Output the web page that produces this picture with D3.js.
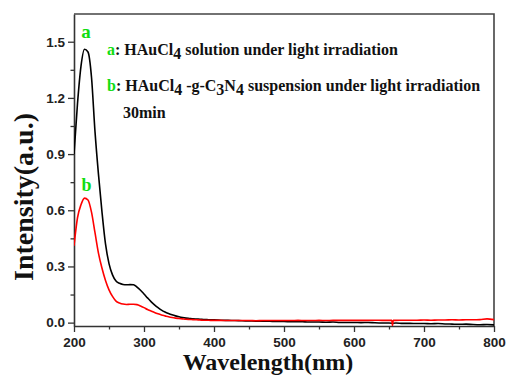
<!DOCTYPE html>
<html>
<head>
<meta charset="utf-8">
<script src="https://cdn.jsdelivr.net/npm/d3@7"></script>
<style>
  body { margin: 0; background: #fff; }
  .tick text { font-family: "Liberation Sans", Arial, sans-serif; font-weight: bold; font-size: 13.5px; fill: #222; }
  .serif { font-family: "Liberation Serif", "Times New Roman", serif; font-weight: bold; }
</style>
</head>
<body>
<div id="chart"></div>
<script>
// wavelength grid (nm)
const wavelength = [200,205,210,215,220,225,230,235,240,245,
  250,255,260,265,270,275,280,285,290,295,
  300,305,310,315,320,325,330,335,340,345,
  350,355,360,365,370,375,380,385,390,395,
  400,410,420,430,440,450,460,470,480,490,
  500,510,520,530,540,550,560,570,580,590,
  600,610,620,630,640,650,654,655,656,660,670,680,
  690,700,710,720,730,740,750,760,770,780,
  790,800];

// a: HAuCl4 solution
const seriesA = [0.90,1.17,1.37,1.46,1.445,1.31,1.02,0.79,0.59,0.42,
  0.315,0.255,0.222,0.21,0.204,0.202,0.203,0.202,0.19,0.173,
  0.153,0.132,0.112,0.095,0.080,0.067,0.057,0.049,0.042,0.036,
  0.031,0.027,0.024,0.022,0.020,0.019,0.018,0.017,0.016,0.015,
  0.015,0.013,0.012,0.011,0.010,0.009,0.008,0.008,0.007,0.006,
  0.006,0.005,0.005,0.004,0.003,0.003,0.002,0.003,0.001,0.001,
  0.001,0.000,0.001,-0.001,-0.002,-0.002,-0.003,-0.004,-0.003,-0.002,-0.004,-0.004,
  -0.005,-0.005,-0.006,-0.005,-0.007,-0.008,-0.009,-0.008,-0.010,-0.011,
  -0.010,-0.012];

// b: HAuCl4-g-C3N4 suspension
const seriesB = [0.41,0.56,0.63,0.665,0.655,0.59,0.48,0.37,0.29,0.225,
  0.175,0.14,0.115,0.105,0.099,0.097,0.098,0.098,0.096,0.089,
  0.080,0.070,0.062,0.054,0.047,0.041,0.036,0.031,0.027,0.024,
  0.022,0.020,0.018,0.017,0.016,0.015,0.014,0.013,0.013,0.012,
  0.012,0.012,0.011,0.011,0.011,0.011,0.010,0.011,0.011,0.011,
  0.011,0.011,0.012,0.011,0.011,0.012,0.011,0.012,0.012,0.012,
  0.012,0.012,0.012,0.013,0.012,0.012,0.012,-0.016,0.012,0.012,0.013,0.013,
  0.013,0.014,0.013,0.014,0.014,0.015,0.014,0.015,0.015,0.016,
  0.020,0.016];

const xTicks = [200,300,400,500,600,700,800];
const xMinor = [250,350,450,550,650,750];
const yTicks = [0.0,0.3,0.6,0.9,1.2,1.5];
const yMinor = [0.15,0.45,0.75,1.05,1.35];

const W = 507, H = 375;
const margin = {top: 14, right: 13, bottom: 49, left: 74};
const green = "#11dd11";

const svg = d3.select("#chart").append("svg")
  .attr("width", W).attr("height", H);

const x = d3.scaleLinear().domain([200, 800]).range([margin.left, W - margin.right]);
const y = d3.scaleLinear().domain([-0.018, 1.648]).range([H - margin.bottom, margin.top]);

svg.append("clipPath").attr("id", "clip").append("rect")
  .attr("x", margin.left).attr("y", margin.top)
  .attr("width", W - margin.left - margin.right)
  .attr("height", H - margin.top - margin.bottom);

// minor ticks
svg.append("g")
  .attr("transform", `translate(0,${H - margin.bottom})`)
  .call(d3.axisBottom(x).tickValues(xMinor).tickSize(3.5).tickFormat(""))
  .call(g => g.select(".domain").remove())
  .selectAll("line").attr("stroke", "#333").attr("stroke-width", 1.3);
svg.append("g")
  .attr("transform", `translate(${margin.left},0)`)
  .call(d3.axisLeft(y).tickValues(yMinor).tickSize(3.5).tickFormat(""))
  .call(g => g.select(".domain").remove())
  .selectAll("line").attr("stroke", "#333").attr("stroke-width", 1.3);

// major axes
const gx = svg.append("g")
  .attr("transform", `translate(0,${H - margin.bottom})`)
  .call(d3.axisBottom(x).tickValues(xTicks).tickSize(6).tickSizeOuter(0).tickPadding(5).tickFormat(d3.format("d")));
const gy = svg.append("g")
  .attr("transform", `translate(${margin.left},0)`)
  .call(d3.axisLeft(y).tickValues(yTicks).tickSize(6).tickSizeOuter(0).tickPadding(3).tickFormat(d3.format(".1f")));
[gx, gy].forEach(g => {
  g.selectAll("line").attr("stroke", "#333").attr("stroke-width", 1.3);
  g.select(".domain").attr("stroke", "#333").attr("stroke-width", 1.6);
});

// frame top/right
svg.append("path")
  .attr("d", `M${margin.left},${margin.top}H${W - margin.right}V${H - margin.bottom}`)
  .attr("fill", "none").attr("stroke", "#444").attr("stroke-width", 1.6);

// curves
const line = d3.line()
  .x((d, i) => x(wavelength[i]))
  .y(d => y(d))
  .curve(d3.curveMonotoneX);

svg.append("path").datum(seriesA)
  .attr("clip-path", "url(#clip)")
  .attr("fill", "none").attr("stroke", "#000").attr("stroke-width", 1.6)
  .attr("d", line);
svg.append("path").datum(seriesB)
  .attr("clip-path", "url(#clip)")
  .attr("fill", "none").attr("stroke", "#ff0000").attr("stroke-width", 1.6)
  .attr("d", line);

// peak labels
svg.append("text").attr("class", "serif")
  .attr("x", 86).attr("y", 38).attr("text-anchor", "middle")
  .attr("font-size", 19).attr("fill", green).text("a");
svg.append("text").attr("class", "serif")
  .attr("x", 86.5).attr("y", 191).attr("text-anchor", "middle")
  .attr("font-size", 18).attr("fill", green).text("b");

// legend texts
function legendLine(xp, yp, parts) {
  const t = svg.append("text").attr("class", "serif")
    .attr("x", xp).attr("y", yp).attr("font-size", 16).attr("fill", "#111");
  parts.forEach(p => {
    const s = t.append("tspan").text(p.t);
    if (p.c) s.attr("fill", p.c);
    if (p.sub) s.attr("dy", 3.5);
    if (p.up) s.attr("dy", -3.5);
  });
}
legendLine(107, 55, [
  {t: "a", c: green}, {t: ": HAuCl"}, {t: "4", sub: true},
  {t: " solution under light irradiation", up: true}
]);
legendLine(107, 91, [
  {t: "b", c: green}, {t: ": HAuCl"}, {t: "4", sub: true},
  {t: " -g-C", up: true}, {t: "3", sub: true}, {t: "N", up: true},
  {t: "4", sub: true}, {t: " suspension under light irradiation", up: true}
]);
legendLine(123, 118, [{t: "30min"}]);

// axis titles
svg.append("text").attr("class", "serif")
  .attr("x", 268).attr("y", 370).attr("text-anchor", "middle")
  .attr("font-size", 24).attr("fill", "#111").text("Wavelength(nm)");
svg.append("text").attr("class", "serif")
  .attr("transform", "translate(33,197) rotate(-90)")
  .attr("text-anchor", "middle")
  .attr("font-size", 28).attr("fill", "#111").text("Intensity(a.u.)");
</script>
</body>
</html>
